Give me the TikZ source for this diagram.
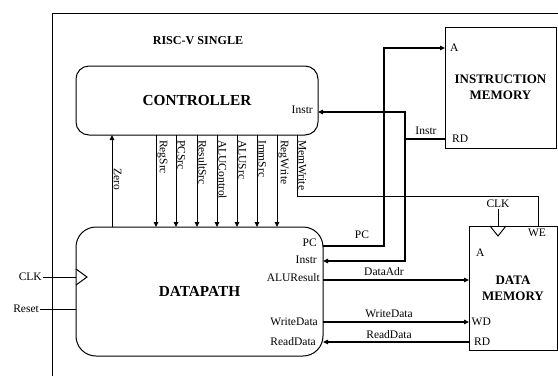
\documentclass[tikz,border=0pt]{standalone}
\usepackage{fontspec}
\setmainfont{Liberation Serif}
\usetikzlibrary{arrows.meta}
\begin{document}
\begin{tikzpicture}[x=1pt,y=-1pt,
 box/.style={draw, line width=1pt, inner sep=0pt, outer sep=0pt},
 lbl/.style={font=\fontsize{11.5}{12}\selectfont, inner sep=1pt},
 bigtitle/.style={font=\fontsize{15.3}{16}\selectfont\bfseries},
 memtitle/.style={font=\fontsize{13}{16}\selectfont\bfseries, align=center},
 bus/.style={line width=1.6pt},
 ctl/.style={line width=1pt},
 arr/.style={-{Triangle[length=5pt,width=4.5pt]}},
 vlbl/.style={lbl, rotate=-90, anchor=south west}
]
\useasboundingbox (0,0) rectangle (558,376);
% outer frame
\draw[line width=1pt] (52,376) -- (52,13) -- (558,13);
\node[font=\fontsize{12.1}{14}\selectfont\bfseries] (title) at (198,41) {RISC-V SINGLE};
% blocks
\node[box, rounded corners=13pt, minimum width=242pt, minimum height=69pt, bigtitle] (ctrl) at (197,100.5) {CONTROLLER};
\node[box, rounded corners=20pt, minimum width=247pt, minimum height=129pt, bigtitle] (dp) at (199.5,291.5) {DATAPATH};
\node[box, minimum width=111pt, minimum height=121pt, memtitle] (imem) at (500.5,87.5) {INSTRUCTION\\MEMORY};
\node[box, minimum width=88pt, minimum height=124pt, memtitle] (dmem) at (513,288) {DATA\\MEMORY};
% Zero
\draw[ctl,arr] (dp.north -| 112,0) -- (ctrl.south -| 112,0);
\node[vlbl] (zero) at (112.5,167) {Zero};
% control signals
\foreach \x/\t [count=\i] in {156/RegSrc,176/PCSrc,197/ResultSrc,217/ALUControl,237/ALUSrc,257/ImmSrc,277/RegWrite} {
  \draw[ctl,arr] (ctrl.south -| \x,0) -- (dp.north -| \x,0);
  \node[vlbl] (sig\i) at (\x+0.3,139) {\t};
}
% MemWrite
\coordinate (weturn) at (538,196);
\draw[ctl] (ctrl.south -| 297,0) |- (weturn) -- (dmem.north -| weturn);
\node[vlbl] (memwrite) at (297.3,139) {MemWrite};
% PC to instruction memory A
\draw[bus,arr] (dp.east |- 0,246) -| (384,48) -- (imem.west |- 0,48);
\node[lbl] (pclbl) at (362,235) {PC};
% Instr
\coordinate (ij) at (405,139);
\draw[bus] (imem.west |- ij) -- (ij);
\draw[bus,arr] (ij) |- (ctrl.east |- 0,112);
\draw[bus,arr] (ij) |- (dp.east |- 0,261);
\node[lbl] (instrlbl) at (426,131) {Instr};
% data memory buses
\draw[bus,arr] (dp.east |- 0,280) -- (dmem.west |- 0,280);
\node[lbl] (adrlbl) at (384,272) {DataAdr};
\draw[bus,arr] (dp.east |- 0,322) -- (dmem.west |- 0,322);
\node[lbl] (wdlbl) at (389,314) {WriteData};
\draw[bus,arr] (dmem.west |- 0,342) -- (dp.east |- 0,342);
\node[lbl] (rdlbl) at (389,335) {ReadData};
% datapath port labels
\node[lbl, anchor=east] (dpPC) at (318,243) {PC};
\node[lbl, anchor=east] (dpInstr) at (318,260) {Instr};
\node[lbl, anchor=east] (dpALU) at (321,278) {ALUResult};
\node[lbl, anchor=east] (dpWD) at (319,322) {WriteData};
\node[lbl, anchor=east] (dpRD) at (317,342) {ReadData};
\node[lbl, anchor=east] (ctrlInstr) at (314,110) {Instr};
% clock and reset
\node[lbl, anchor=east] (clk) at (43,277) {CLK};
\draw[ctl] (clk.east) -- (dp.west |- 0,277);
\draw[ctl] (dp.west |- 0,269) -- (87,277) -- (dp.west |- 0,285);
\node[lbl, anchor=east] (reset) at (40,309) {Reset};
\draw[ctl] (reset.east) -- (dp.west |- 0,309);
% data memory clock
\node[lbl] (dclk) at (498,204) {CLK};
\draw[ctl] (dclk.south) -- (dmem.north -| dclk);
\draw[ctl] (dmem.north -| 490,0) -- (498,236) -- (dmem.north -| 506,0);
% memory port labels
\node[lbl, anchor=west] (iA) at (449,48) {A};
\node[lbl, anchor=west] (iRD) at (451,139) {RD};
\node[lbl, anchor=west] (dA) at (475,253) {A};
\node[lbl, anchor=west] (dWD) at (470.5,322) {WD};
\node[lbl, anchor=west] (dRD) at (473,342) {RD};
\node[lbl] (we) at (537,233) {WE};
\end{tikzpicture}
\end{document}
